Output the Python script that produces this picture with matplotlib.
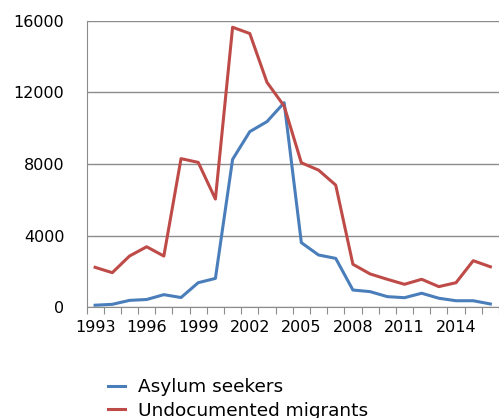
import matplotlib.pyplot as plt
import numpy as np

years = list(range(1993, 2017))
asylum = [100, 150, 370, 420, 690, 530, 1360, 1600, 8260, 9810, 10370, 11430,
          3600, 2910, 2720, 950, 860, 580, 520, 770, 490, 350, 350, 170]
undocumented = [2220, 1920, 2850, 3370, 2850, 8300, 8090, 6040, 15650, 15300, 12570, 11240,
                8070, 7660, 6820, 2390, 1850, 1550, 1270, 1550, 1140, 1360, 2590, 2250]
label_years = [1993, 1996, 1999, 2002, 2005, 2008, 2011, 2014]
y_ticks = [0, 4000, 8000, 12000, 16000]

plt.rcParams['font.family'] = 'DejaVu Sans'

fig = plt.figure(figsize=(4.99, 4.18), dpi=100)
ax = fig.add_axes([86.5 / 499, 111 / 418, 1 - 86.5 / 499, 286 / 418])

ax.plot(years, asylum, color='#4A7EBB', lw=2.2, label='Asylum seekers')
ax.plot(years, undocumented, color='#BE4B48', lw=2.2, label='Undocumented migrants')

ax.set_xlim(1992.5, 2016.07)
ax.set_ylim(0, 16000)

# gridlines and axis styling
ax.set_yticks(y_ticks)
ax.yaxis.grid(True, color='#8c8c8c', lw=1)
ax.set_axisbelow(True)
ax.tick_params(axis='y', length=0, labelsize=11.5, pad=16)
for s in ['top', 'right']:
    ax.spines[s].set_visible(False)
ax.spines['left'].set_color('#8c8c8c')
ax.spines['bottom'].set_color('#8c8c8c')

# ticks between categories, labels on every third year
ax.set_xticks(np.arange(1992.5, 2016.6, 1))
ax.set_xticklabels([])
ax.tick_params(axis='x', which='major', length=5, color='#8c8c8c', direction='out')
ax.set_xticks(label_years, minor=True)
ax.set_xticklabels([str(y) for y in label_years], minor=True)
ax.tick_params(axis='x', which='minor', length=0, labelsize=11.5, pad=9)

fig.legend(loc='upper left', bbox_to_anchor=(99 / 499, 1 - 369 / 418), frameon=False,
           fontsize=13.3, handlelength=0.9, handletextpad=0.7, labelspacing=0.3,
           borderpad=0)

fig.savefig('out.png', dpi=100)
